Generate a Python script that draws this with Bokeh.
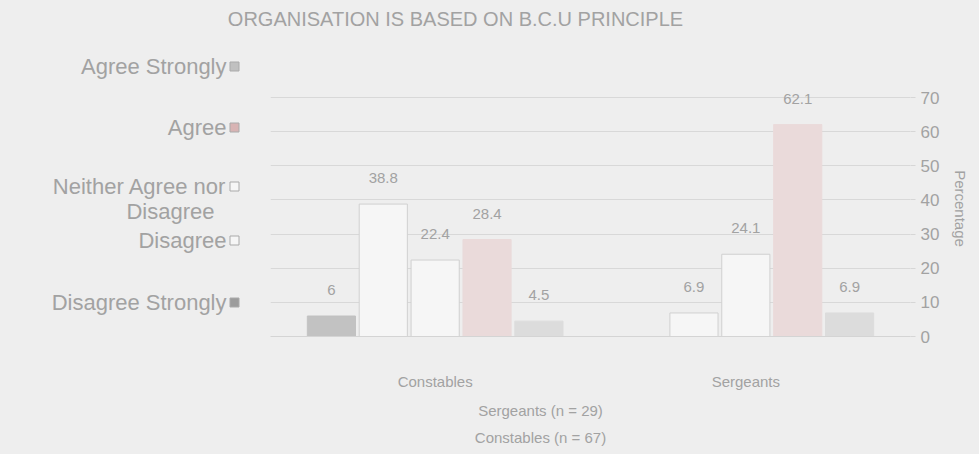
from bokeh.plotting import figure
from bokeh.models import ColumnDataSource, FactorRange, FixedTicker, Range1d
from bokeh.transform import dodge
from bokeh.layouts import column, row
from bokeh.core.properties import value
from bokeh.embed import file_html
from bokeh.resources import INLINE

# ---------------- data ----------------
groups = ["Constables", "Sergeants"]
series = ["Disagree Strongly", "Disagree", "Neither Agree nor Disagree", "Agree", "Agree Strongly"]
constables = [6.0, 38.8, 22.4, 28.4, 4.5]
sergeants = [0.0, 6.9, 24.1, 62.1, 6.9]
constables_labels = ["6", "38.8", "22.4", "28.4", "4.5"]
sergeants_labels = ["", "6.9", "24.1", "62.1", "6.9"]
y_ticks = [0, 10, 20, 30, 40, 50, 60, 70]
title_text = "ORGANISATION IS BASED ON B.C.U PRINCIPLE"
notes = ["Sergeants (n = 29)", "Constables (n = 67)"]
legend_labels = ["Agree Strongly", "Agree", "Neither Agree nor\nDisagree", "Disagree", "Disagree Strongly"]
legend_keys = ["Agree Strongly", "Agree", "Neither Agree nor Disagree", "Disagree", "Disagree Strongly"]

# ---------------- style ----------------
BG = "#eeeeee"
TXT = "#a2a2a2"
FONT = "Liberation Sans"
fills = {"Disagree Strongly": "#c2c2c2", "Disagree": "#f6f6f6",
         "Neither Agree nor Disagree": "#f6f6f6", "Agree": "#eadada",
         "Agree Strongly": "#dcdcdc"}
lines = {"Disagree Strongly": "#c2c2c2", "Disagree": "#d0d0d0",
         "Neither Agree nor Disagree": "#d0d0d0", "Agree": "#eadada",
         "Agree Strongly": "#dcdcdc"}
swatch = {"Disagree Strongly": "#9c9c9c", "Disagree": "#f6f6f6",
          "Neither Agree nor Disagree": "#f6f6f6", "Agree": "#d8b4b4",
          "Agree Strongly": "#c0c0c0"}

TOTAL_W, TOTAL_H = 979, 454
TOP_H = 48                    # title strip
ROW_TOP = TOP_H
ROW_BOT = 392
MID_H = ROW_BOT - ROW_TOP     # legend + chart strip
BOT_H = TOTAL_H - ROW_BOT     # notes strip
LEFT_W = 270                  # legend strip
MAIN_W = TOTAL_W - LEFT_W
FRAME_W = 640
FRAME_TOP, FRAME_BOT = 80, 338


def blank(w, h):
    f = figure(width=w, height=h, output_backend="svg", toolbar_location=None,
               x_range=Range1d(0, w), y_range=Range1d(h, 0),
               x_axis_location=None, y_axis_location=None, min_border=0,
               frame_align=False)
    f.background_fill_color = BG
    f.border_fill_color = BG
    f.outline_line_color = None
    f.grid.visible = False
    return f


# ---------------- title strip ----------------
top = blank(TOTAL_W, TOP_H)
top.text(x=[455], y=[18], text=[title_text], text_align="center", text_baseline="middle",
         text_font_size="20px", text_color=TXT, text_font=value(FONT))

# ---------------- legend strip ----------------
leg = blank(LEFT_W, MID_H)
leg_page_y = [66, 127, 186, 240, 302]
tx, ty, tt = [], [], []
for lab, py in zip(legend_labels, leg_page_y):
    for j, part in enumerate(lab.split("\n")):
        tx.append(226 - j * 12)
        ty.append(py - ROW_TOP + j * 25)
        tt.append(part)
leg.text(x=tx, y=ty, text=tt, text_align="right", text_baseline="middle",
         text_font_size="22px", text_color=TXT, text_font=value(FONT))
leg.rect(x=[234] * 5, y=[py - ROW_TOP for py in leg_page_y], width=9, height=9,
         fill_color=[swatch[k] for k in legend_keys], line_color="#aaaaaa", line_width=1)

# ---------------- main chart ----------------
p = figure(width=MAIN_W, height=MID_H, output_backend="svg", toolbar_location=None,
           x_range=FactorRange(factors=groups, range_padding=0.03),
           y_range=Range1d(0, 75), y_axis_location="right", frame_align=False)
p.min_border_left = 0
p.min_border_right = MAIN_W - FRAME_W
p.min_border_top = FRAME_TOP - ROW_TOP
p.min_border_bottom = ROW_BOT - FRAME_BOT
p.background_fill_color = BG
p.border_fill_color = BG
p.outline_line_color = None

spacing = 0.167
bw = 0.155
for i, s in enumerate(series):
    src = ColumnDataSource(dict(group=groups, value=[constables[i], sergeants[i]],
                                label=[constables_labels[i], sergeants_labels[i]]))
    off = (i - 2) * spacing
    p.vbar(x=dodge("group", off, range=p.x_range), top="value", width=bw, source=src,
           fill_color=fills[s], line_color=lines[s], line_width=1)
    p.text(x=dodge("group", off, range=p.x_range), y="value", text="label", source=src,
           text_align="center", text_baseline="middle", y_offset=-26,
           text_font_size="15px", text_color=TXT, text_font=value(FONT))

p.yaxis.ticker = FixedTicker(ticks=y_ticks)
p.yaxis.axis_label = "Percentage"
p.yaxis.axis_label_text_font_style = "normal"
p.yaxis.axis_label_text_font_size = "15px"
p.yaxis.axis_label_text_color = TXT
p.yaxis.axis_label_text_font = FONT
p.yaxis.axis_label_standoff = 10
p.yaxis.major_label_text_font_size = "17px"
p.yaxis.major_label_text_color = TXT
p.yaxis.major_label_text_font = FONT
p.yaxis.major_label_standoff = 5
p.yaxis.axis_line_color = None
p.yaxis.major_tick_line_color = "#d6d6d6"
p.yaxis.major_tick_in = 0
p.yaxis.major_tick_out = 5
p.yaxis.minor_tick_line_color = None

p.xaxis.major_label_text_font_size = "15px"
p.xaxis.major_label_text_color = TXT
p.xaxis.major_label_text_font = FONT
p.xaxis.major_label_standoff = 30
p.xaxis.axis_line_color = "#d4d4d4"
p.xaxis.major_tick_line_color = None
p.xaxis.minor_tick_line_color = None

p.xgrid.grid_line_color = None
p.ygrid.grid_line_color = "#d8d8d8"
p.ygrid.ticker = FixedTicker(ticks=y_ticks)

# ---------------- notes strip ----------------
bot = blank(TOTAL_W, BOT_H)
bot.text(x=[540, 540], y=[410 - ROW_BOT, 437 - ROW_BOT], text=notes, text_align="center",
         text_baseline="middle", text_font_size="15px", text_color=TXT, text_font=value(FONT))

layout = column(top, row(leg, p, styles={"background-color": BG}), bot,
                styles={"background-color": BG})
open("out.html", "w").write(file_html(layout, INLINE))
